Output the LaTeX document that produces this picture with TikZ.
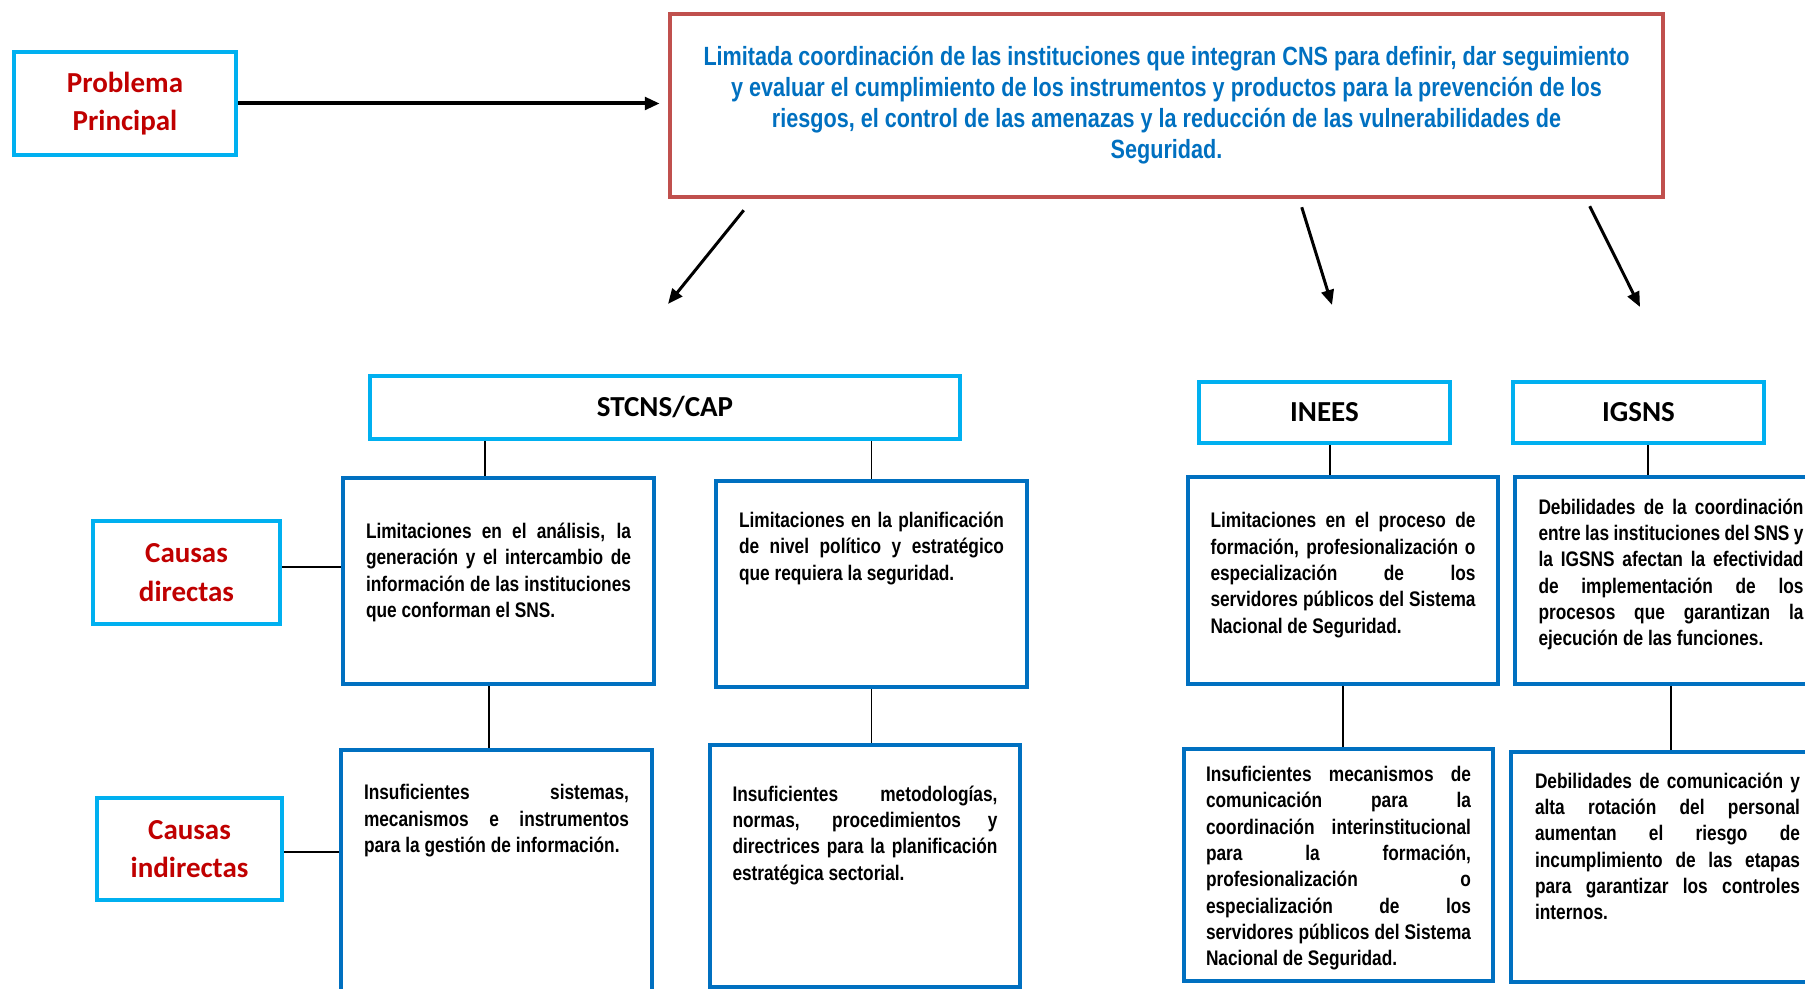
\documentclass[tikz,border=0pt]{standalone}
\usepackage{fontspec}
\usetikzlibrary{arrows.meta,calc}
\newfontfamily\narrowfont[FakeStretch=0.82]{Liberation Sans}
\newfontfamily\calfont{Carlito}
\definecolor{cyanline}{HTML}{00B0F0}
\definecolor{blueline}{HTML}{0070C0}
\definecolor{redline}{HTML}{C0504D}
\definecolor{redtext}{HTML}{C00000}
\definecolor{bluetext}{HTML}{0070C0}
\tikzset{
  labelbox/.style={draw=cyanline, line width=0.09cm, fill=white, inner sep=0pt, align=center,
    font=\calfont\bfseries\fontsize{16.5}{22}\selectfont},
  causebox/.style={draw=blueline, line width=0.09cm, inner sep=0pt},
  causetext/.style={anchor=north, inner sep=0pt, text width=5.3cm, align=justify,
    font=\narrowfont\bfseries\fontsize{12}{15}\selectfont},
  link/.style={line width=0.03cm},
  arrow/.style={line width=0.06cm, -{Triangle[length=0.3cm,width=0.25cm]}}
}

\begin{document}
\tolerance=10000
\hyphenpenalty=10000
\begin{tikzpicture}
			%%%%% START %%%%%
			\useasboundingbox (0,0) rectangle (36.1,19.78);
			
			\node[labelbox, text=redtext, minimum width=4.44cm, minimum height=2.06cm] (prob) at (2.50,17.71) {Problema\\Principal};
			\node[draw=redline, line width=0.09cm, minimum width=19.86cm, minimum height=3.66cm, align=center, text=bluetext,
			  font=\narrowfont\bfseries\fontsize{15}{17.6}\selectfont] (main) at (23.33,17.67)
			  {Limitada coordinación de las instituciones que integran CNS para definir, dar seguimiento\\
			   y evaluar el cumplimiento de los instrumentos y productos para la prevención de los\\
			   riesgos, el control de las amenazas y la reducción de las vulnerabilidades de\\
			   Seguridad.};
			\draw[arrow, line width=0.08cm, shorten >=0.16cm] (prob.east) -- (prob.east -| main.west);
			
			\coordinate (t1) at (13.36,13.70);
			\coordinate (t2) at (26.64,13.68);
			\coordinate (t3) at (32.80,13.64);
			\draw[arrow] ([shift={(1.52,-0.22)}]main.south west) -- (t1);
			\draw[arrow] ([shift={(12.68,-0.16)}]main.south west) -- (t2);
			\draw[arrow] ([shift={(18.44,-0.14)}]main.south west) -- (t3);
			
			% institutions
			\node[labelbox, minimum width=11.80cm, minimum height=1.26cm] (stcns) at (13.30,11.63) {STCNS/CAP};
			\node[labelbox, minimum width=5.02cm, minimum height=1.22cm] (inees) at (26.49,11.53) {INEES};
			\node[labelbox, minimum width=5.02cm, minimum height=1.22cm] (igsns) at (32.77,11.53) {IGSNS};
			
			\node[labelbox, text=redtext, minimum width=3.74cm, minimum height=2.06cm] (cdir) at (3.73,8.33) {Causas\\directas};
			\node[labelbox, text=redtext, minimum width=3.70cm, minimum height=2.04cm] (cind) at (3.79,2.80) {Causas\\indirectas};
			
			% direct causes
			\node[causebox, minimum width=6.22cm, minimum height=4.12cm] (a1) at (9.97,8.16) {};
			\node[causebox, minimum width=6.22cm, minimum height=4.12cm] (a2) at (17.43,8.10) {};
			\node[causebox, minimum width=6.20cm, minimum height=4.14cm] (c1) at (26.86,8.17) {};
			\node[causebox, minimum width=6.24cm, minimum height=4.14cm] (d1) at (33.42,8.17) {};
			
			\node[causetext] (a1t) at ($(a1.north)+(0,-0.94)$) {Limitaciones en el análisis, la\linebreak
			  generación y el intercambio de\linebreak información de las instituciones\linebreak que conforman el SNS.};
			\node[causetext] (a2t) at ($(a2.north)+(0,-0.66)$) {Limitaciones en la planificación\linebreak
			  de nivel político y estratégico\linebreak que requiera la seguridad.};
			\node[causetext] (c1t) at ($(c1.north)+(0,-0.75)$) {Limitaciones en el proceso de\linebreak
			  formación, profesionalización o\linebreak especialización de los\linebreak
			  servidores públicos del Sistema\linebreak Nacional de Seguridad.};
			\node[causetext] (d1t) at ($(d1.north)+(0,-0.47)$) {Debilidades de la coordinación\linebreak
			  entre las instituciones del SNS y\linebreak la IGSNS afectan la efectividad\linebreak
			  de implementación de los\linebreak procesos que garantizan la\linebreak ejecución de las funciones.};
			
			% indirect causes
			\node[causebox, minimum width=6.22cm, minimum height=5.00cm] (b1) at (9.93,2.28) {};
			\node[causebox, minimum width=6.20cm, minimum height=4.84cm] (b2) at (17.30,2.46) {};
			\node[causebox, minimum width=6.18cm, minimum height=4.64cm] (c2) at (26.77,2.48) {};
			\node[causebox, minimum width=6.26cm, minimum height=4.60cm] (d2) at (33.35,2.44) {};
			
			\node[causetext] (b1t) at ($(b1.north)+(0,-0.73)$) {Insuficientes sistemas,\linebreak
			  mecanismos e instrumentos\linebreak para la gestión de información.};
			\node[causetext] (b2t) at ($(b2.north)+(0,-0.85)$) {Insuficientes metodologías,\linebreak
			  normas, procedimientos y\linebreak directrices para la planificación\linebreak estratégica sectorial.};
			\node[causetext] (c2t) at ($(c2.north)+(0,-0.38)$) {Insuficientes mecanismos de\linebreak
			  comunicación para la\linebreak coordinación interinstitucional\linebreak para la formación,\linebreak
			  profesionalización o\linebreak especialización de los\linebreak
			  servidores públicos del Sistema\linebreak Nacional de Seguridad.};
			\node[causetext] (d2t) at ($(d2.north)+(0,-0.45)$) {Debilidades de comunicación y\linebreak
			  alta rotación del personal\linebreak aumentan el riesgo de\linebreak
			  incumplimiento de las etapas\linebreak para garantizar los controles\linebreak internos.};
			
			% links
			\draw[link] ([xshift=-0.27cm]a1.north) -- ([xshift=-0.27cm]a1.north |- stcns.south);
			\draw[link] (a2.north) -- (a2.north |- stcns.south);
			\draw[link] ([xshift=0.11cm]inees.south) -- ([xshift=0.11cm]inees.south |- c1.north);
			\draw[link] ([xshift=0.19cm]igsns.south) -- ([xshift=0.19cm]igsns.south |- d1.north);
			\draw[link] ([xshift=-0.19cm]a1.south) -- ([xshift=-0.19cm]a1.south |- b1.north);
			\draw[link] (a2.south) -- (a2.south |- b2.north);
			\draw[link] (c1.south) -- (c1.south |- c2.north);
			\draw[link] (d1.south) -- (d1.south |- d2.north);
			\draw[link] ([yshift=0.11cm]cdir.east) -- ([yshift=0.11cm]cdir.east -| a1.west);
			\draw[link] ([yshift=-0.06cm]cind.east) -- ([yshift=-0.06cm]cind.east -| b1.west);
			
			%%%%% END %%%%%
\end{tikzpicture}
\end{document}
